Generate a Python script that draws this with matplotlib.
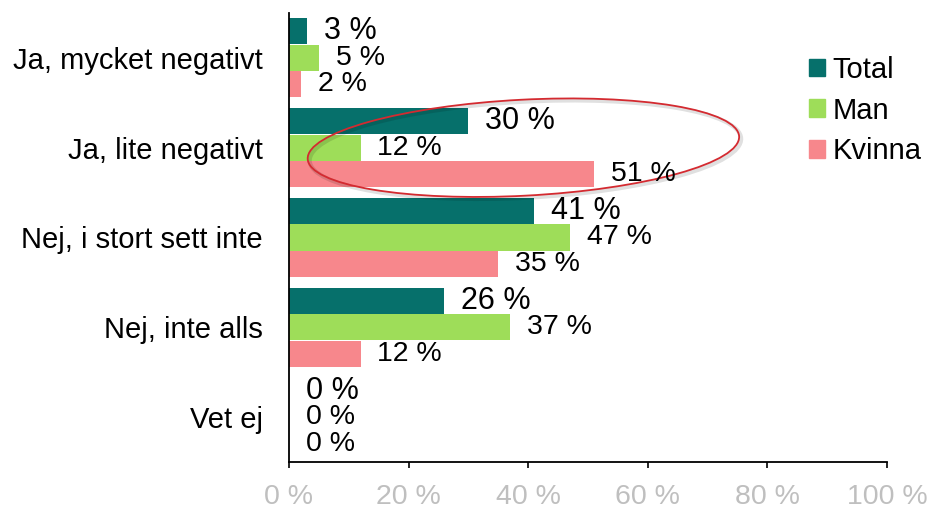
import numpy as np
import matplotlib
matplotlib.use("Agg")
import matplotlib.pyplot as plt
from matplotlib.patches import Patch, Ellipse
from matplotlib.transforms import ScaledTranslation

plt.rcParams['font.family'] = ['Liberation Sans', 'DejaVu Sans']

# data
categories = ["Ja, mycket negativt", "Ja, lite negativt", "Nej, i stort sett inte",
              "Nej, inte alls", "Vet ej"]
series = ["Total", "Man", "Kvinna"]
total = [3, 30, 41, 26, 0]
man = [5, 12, 47, 37, 0]
kvinna = [2, 51, 35, 12, 0]
ticks = [0, 20, 40, 60, 80, 100]

colors = ["#06706b", "#9edd59", "#f7878c"]
values = [total, man, kvinna]
label_sizes = [22, 20.5, 20.5]

fig = plt.figure(figsize=(9.3, 5.09), dpi=100)
ax = fig.add_axes([289 / 930, 1 - 462 / 509, (887 - 289) / 930, (462 - 13) / 509])

y = np.arange(len(categories))
h = 0.29
offsets = [-0.295, 0, 0.295]

for vals, col, off, fs in zip(values, colors, offsets, label_sizes):
    ax.barh(y + off, vals, height=h, color=col)
    for yi, v in zip(y, vals):
        ax.annotate("%d %%" % v, (v, yi + off), xytext=(12, 0), textcoords="offset points",
                    ha="left", va="center", fontsize=fs, color="black")

ax.set_xlim(0, 100)
ax.set_ylim(len(categories) - 0.5, -0.5)
ax.set_yticks(y)
ax.set_yticklabels(categories, fontsize=21)
ax.set_xticks(ticks)
ax.set_xticklabels(["%d %%" % t for t in ticks], fontsize=20.5, color="#bfbfbf")
ax.tick_params(axis="y", length=0, pad=19)
ax.tick_params(axis="x", length=4, width=1.2, pad=12, colors="black", labelcolor="#bfbfbf")

for s in ["top", "right"]:
    ax.spines[s].set_visible(False)
for s in ["left", "bottom"]:
    ax.spines[s].set_linewidth(1.3)
    ax.spines[s].set_color("black")

# legend
handles = [Patch(color=c, label=n) for c, n in zip(colors, series)]
fig.legend(handles=handles, loc="upper left", bbox_to_anchor=(809 / 930, 1 - 56 / 509),
           frameon=False, fontsize=21, handlelength=0.55, handleheight=0.55,
           handletextpad=0.25, labelspacing=0.43, borderpad=0, borderaxespad=0)

# highlight ellipse around "Ja, lite negativt"
trans = fig.dpi_scale_trans + ScaledTranslation(39.2, 1.0, ax.transData)
shadow = Ellipse((0.02, -0.02), 4.32, 0.96, angle=3, fill=False, lw=3, edgecolor="#000000",
                 alpha=0.12, transform=trans, clip_on=False)
ring = Ellipse((0, 0), 4.32, 0.96, angle=3, fill=False, lw=1.3, edgecolor="#d42a30",
               transform=trans, clip_on=False)
ax.add_patch(shadow)
ax.add_patch(ring)

fig.savefig("out.png", dpi=100)
